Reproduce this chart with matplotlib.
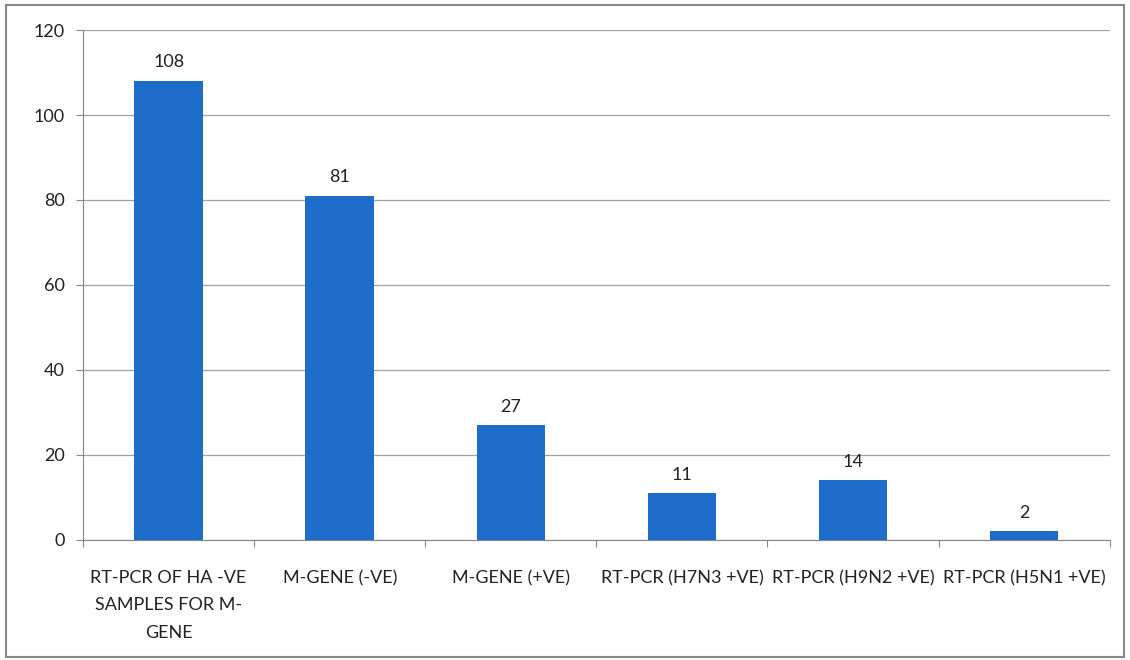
import matplotlib
matplotlib.use('Agg')
import matplotlib.pyplot as plt
from matplotlib.patches import Rectangle

categories = ["RT-PCR OF HA -VE\nSAMPLES FOR M-\nGENE", "M-GENE (-VE)", "M-GENE (+VE)",
              "RT-PCR (H7N3 +VE)", "RT-PCR (H9N2 +VE)", "RT-PCR (H5N1 +VE)"]
values = [108, 81, 27, 11, 14, 2]
yticks = [0, 20, 40, 60, 80, 100, 120]

plt.rcParams['font.family'] = ['Lato', 'DejaVu Sans']

fig = plt.figure(figsize=(11.3, 6.6), dpi=100)
ax = fig.add_axes([0.0735, 0.182, 0.9085, 0.7725])

x = range(len(values))
bars = ax.bar(x, values, width=0.4, color='#1F6DCB', zorder=3)

for xi, v in zip(x, values):
    ax.text(xi, v + 2.5, str(v), ha='center', va='bottom', fontsize=13, color='#222222')

ax.set_xlim(-0.5, len(values) - 0.5)
ax.set_ylim(0, 120)
ax.set_yticks(yticks)
ax.tick_params(axis='y', labelsize=13, colors='#868686', labelcolor='#222222', length=5, pad=8)

# category labels between boundary ticks
ax.set_xticks([i - 0.5 for i in range(len(values) + 1)])
ax.set_xticklabels([])
ax.set_xticks(list(x), minor=True)
ax.set_xticklabels(categories, minor=True, fontsize=13, color='#222222', linespacing=1.85, va='top')
ax.tick_params(axis='x', which='major', length=5, colors='#868686')
ax.tick_params(axis='x', which='minor', length=0, pad=22)

ax.grid(axis='y', color='#a0a0a0', linewidth=0.9, zorder=0)
for s in ['top', 'right']:
    ax.spines[s].set_visible(False)
ax.spines['left'].set_color('#868686')
ax.spines['bottom'].set_color('#868686')

# outer chart border
fig.patches.append(Rectangle((0.005, 0.005), 0.99, 0.988, transform=fig.transFigure,
                             fill=False, edgecolor='#888888', linewidth=1.5))

fig.savefig('out.png', dpi=100)
